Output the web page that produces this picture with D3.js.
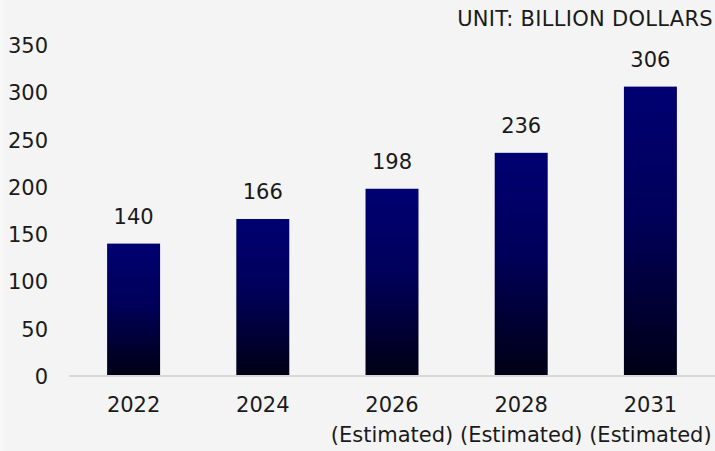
<!DOCTYPE html>
<html>
<head>
<meta charset="utf-8">
<script src="https://cdn.jsdelivr.net/npm/d3@7/dist/d3.min.js"></script>
<style>
  html, body { margin: 0; padding: 0; background: #f4f4f4; }
  svg { display: block; }
  text { font-family: "DejaVu Sans", "Open Sans", sans-serif; fill: #1a1a1a; }
</style>
</head>
<body>
<svg id="chart" width="715" height="451"></svg>
<script>
// Market size by year, billions of US dollars
const years = ["2022", "2024", "2026", "2028", "2031"];
const subLabels = ["", "", "(Estimated)", "(Estimated)", "(Estimated)"];
const values = [140, 166, 198, 236, 306];
const yTicks = [0, 50, 100, 150, 200, 250, 300, 350];
const unitLabel = "UNIT: BILLION DOLLARS";

const W = 715, H = 451;
const plot = { left: 69, right: 715, top: 45, bottom: 376 };
const fontSize = 21;

const svg = d3.select("#chart");

svg.append("rect").attr("width", W).attr("height", H).attr("fill", "#f4f4f4");
svg.append("rect").attr("width", 3).attr("height", H).attr("fill", "#f8f8f8");

const x = d3.scaleBand()
  .domain(years)
  .range([plot.left, plot.right])
  .paddingInner(0.59)
  .paddingOuter(0.295);

const y = d3.scaleLinear()
  .domain([0, 350])
  .range([plot.bottom, plot.top]);

const defs = svg.append("defs");

// bar fill: navy at the top fading to near-black at the base
const barGrad = defs.append("linearGradient")
  .attr("id", "barGrad")
  .attr("x1", 0).attr("y1", 0).attr("x2", 0).attr("y2", 1);
barGrad.append("stop").attr("offset", "0%").attr("stop-color", "#000072");
barGrad.append("stop").attr("offset", "45%").attr("stop-color", "#00005a");
barGrad.append("stop").attr("offset", "100%").attr("stop-color", "#000015");

// gridlines fade out towards the baseline
const gridGrad = defs.append("linearGradient")
  .attr("id", "gridGrad")
  .attr("gradientUnits", "userSpaceOnUse")
  .attr("x1", 0).attr("y1", plot.top).attr("x2", 0).attr("y2", plot.bottom);
gridGrad.append("stop").attr("offset", "0%").attr("stop-color", "#c6c6c6");
gridGrad.append("stop").attr("offset", "100%").attr("stop-color", "#f1f1f1");

// y axis with gridlines
const yAxis = d3.axisLeft(y)
  .tickValues(yTicks)
  .tickSize(plot.left - plot.right)
  .tickPadding(21)
  .tickFormat(d3.format("d"));

const yG = svg.append("g")
  .attr("transform", `translate(${plot.right},0)`)
  .call(yAxis);
yG.select(".domain").remove();
yG.selectAll(".tick line")
  .attr("stroke", "url(#gridGrad)")
  .attr("stroke-width", 2);
yG.selectAll(".tick text")
  .attr("x", -(plot.right - 48))
  .attr("text-anchor", "end")
  .attr("font-size", fontSize)
  .attr("dy", "0.36em");

// bars
svg.append("g").selectAll("rect")
  .data(values)
  .join("rect")
  .attr("x", (d, i) => x(years[i]))
  .attr("y", d => y(d))
  .attr("width", x.bandwidth())
  .attr("height", d => y(0) - y(d))
  .attr("fill", "url(#barGrad)");

// baseline
svg.append("line")
  .attr("x1", plot.left).attr("x2", plot.right)
  .attr("y1", y(0)).attr("y2", y(0))
  .attr("stroke", "#d8d8d8").attr("stroke-width", 2);

// value labels above bars
svg.append("g").selectAll("text")
  .data(values)
  .join("text")
  .attr("x", (d, i) => x(years[i]) + x.bandwidth() / 2)
  .attr("y", d => y(d) - 20)
  .attr("text-anchor", "middle")
  .attr("font-size", fontSize)
  .text(d => d);

// x axis labels
const xAxis = d3.axisBottom(x).tickSize(0).tickPadding(0);
const xG = svg.append("g")
  .attr("transform", `translate(0,${plot.bottom})`)
  .call(xAxis);
xG.select(".domain").remove();
xG.selectAll(".tick text").remove();
xG.selectAll(".tick").each(function(d, i) {
  const t = d3.select(this);
  t.append("text")
    .attr("y", 36)
    .attr("text-anchor", "middle")
    .attr("font-size", fontSize)
    .text(d);
  if (subLabels[i]) {
    t.append("text")
      .attr("y", 66)
      .attr("text-anchor", "middle")
      .attr("font-size", fontSize)
      .text(subLabels[i]);
  }
});

// unit note
svg.append("text")
  .attr("x", 713)
  .attr("y", 26)
  .attr("text-anchor", "end")
  .attr("font-size", fontSize)
  .attr("letter-spacing", 0.3)
  .text(unitLabel);
</script>
</body>
</html>
